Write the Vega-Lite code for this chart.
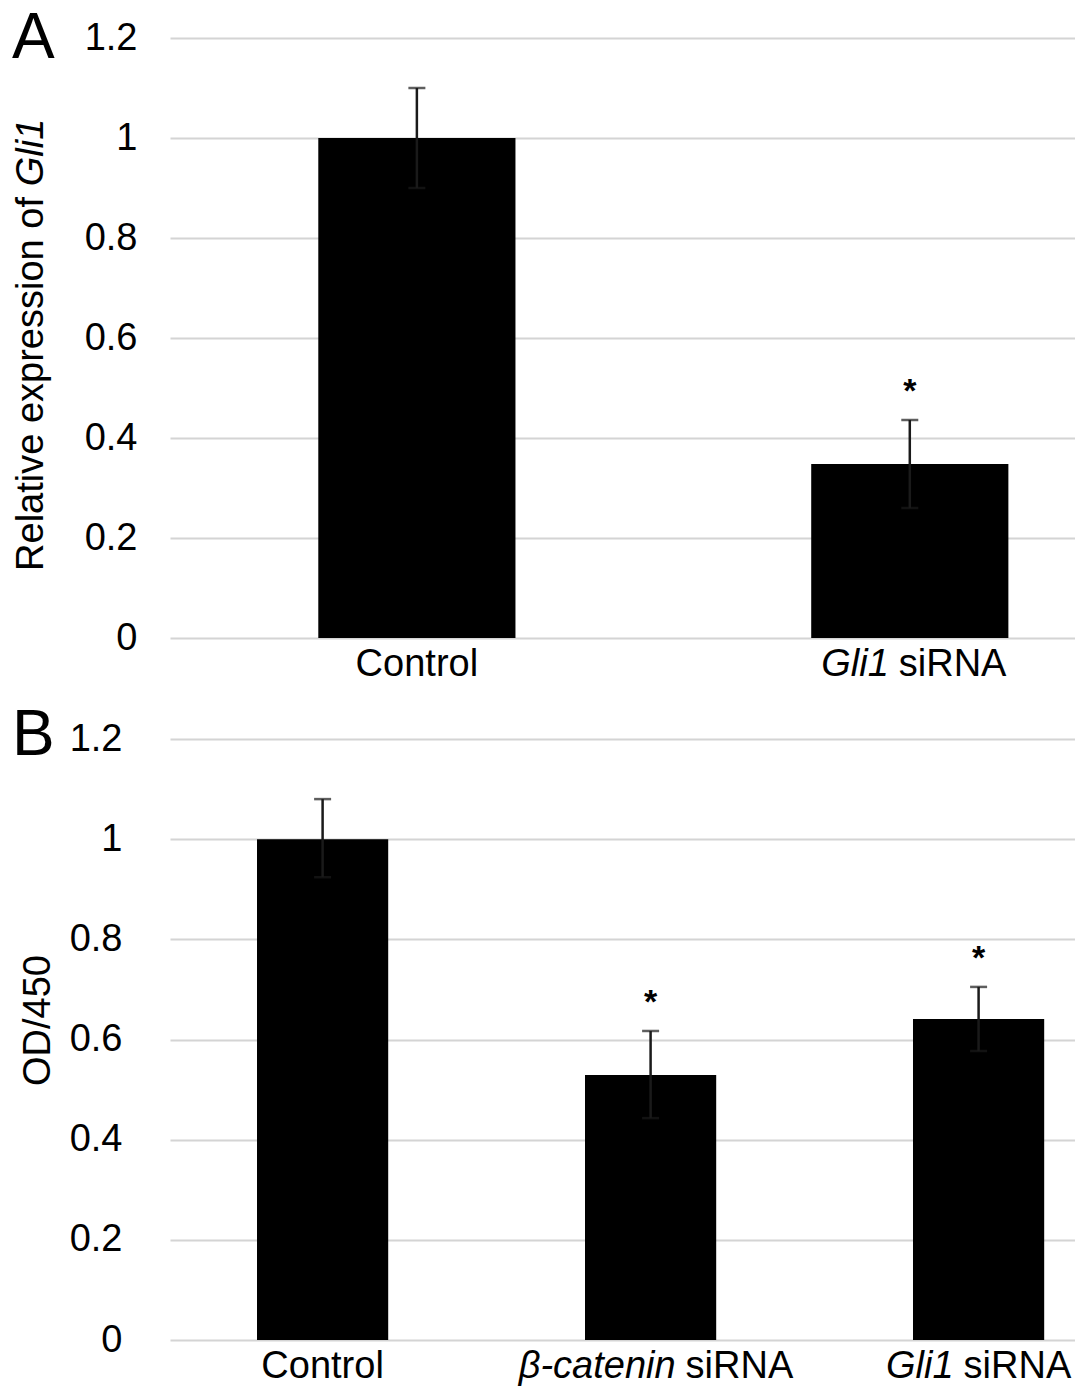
{
  "$schema": "https://vega.github.io/schema/vega-lite/v6.json",
  "background": "white",
  "padding": {"left": 12, "top": 7, "right": 0, "bottom": 0},
  "autosize": {"type": "pad"},
  "spacing": 20,
  "config": {
    "view": {"stroke": null},
    "font": "Liberation Sans",
    "axis": {"labelFont": "Liberation Sans", "titleFont": "Liberation Sans", "labelColor": "#000", "titleColor": "#000", "titleFontWeight": "normal"},
    "text": {"color": "#000"}
  },
  "vconcat": [
    {
      "width": 905,
      "height": 600,
      "title": {"text": "A", "anchor": "start", "frame": "group", "orient": "top", "fontSize": 64, "fontWeight": "normal", "font": "Liberation Sans", "color": "#000", "dx": -158, "dy": 103, "offset": 0, "baseline": "alphabetic"},
      "data": {"values": [
        {"group": "Control", "mean": 1.0, "lo": 0.9, "hi": 1.1, "sig": "", "lab_i": "", "lab_r": "Control"},
        {"group": "Gli1 siRNA", "mean": 0.348, "lo": 0.26, "hi": 0.436, "sig": "*", "lab_i": "Gli1", "lab_r": "siRNA"}
      ]},
      "encoding": {
        "x": {"field": "group", "type": "nominal", "sort": null, "scale": {"paddingInner": 0.6, "paddingOuter": 0.218, "align": 0.69}, "axis": null}
      },
      "layer": [
        {
          "mark": {"type": "bar", "color": "#000"},
          "encoding": {
            "y": {"field": "mean", "type": "quantitative", "scale": {"domain": [0, 1.2], "nice": false}, "title": null,
                  "axis": {"values": [0, 0.2, 0.4, 0.6, 0.8, 1, 1.2], "format": "~g", "labelFontSize": 38, "labelPadding": 33, "ticks": false, "domain": false, "gridColor": "#d4d4d4", "gridWidth": 2}}
          }
        },
        {
          "mark": {"type": "errorbar", "color": "#1a1a1a", "ticks": {"size": 17, "thickness": 2.5}, "rule": {"strokeWidth": 2.5}},
          "encoding": {
            "y": {"field": "lo", "type": "quantitative", "title": null},
            "y2": {"field": "hi"}
          }
        },
        {
          "mark": {"type": "text", "fontSize": 34, "fontWeight": "bold", "baseline": "alphabetic", "dy": -18},
          "encoding": {"y": {"field": "hi", "type": "quantitative", "title": null}, "text": {"field": "sig"}}
        },
        {
          "transform": [{"filter": "datum.group == 'Control'"}],
          "mark": {"type": "text", "fontSize": 38, "align": "center", "baseline": "top", "dy": 8},
          "encoding": {"y": {"datum": 0}, "text": {"field": "lab_r"}}
        },
        {
          "transform": [{"filter": "datum.group == 'Gli1 siRNA'"}],
          "mark": {"type": "text", "fontStyle": "italic", "fontSize": 38, "align": "right", "baseline": "top", "dy": 8, "dx": -21},
          "encoding": {"y": {"datum": 0}, "text": {"field": "lab_i"}}
        },
        {
          "transform": [{"filter": "datum.group == 'Gli1 siRNA'"}],
          "mark": {"type": "text", "fontSize": 38, "align": "left", "baseline": "top", "dy": 8, "dx": -11},
          "encoding": {"y": {"datum": 0}, "text": {"field": "lab_r"}}
        },
        {
          "data": {"values": [{"part": "Relative expression of"}]},
          "mark": {"type": "text", "fontSize": 38, "angle": 270, "align": "center", "baseline": "middle", "dy": -385},
          "encoding": {"x": {"datum": "Control", "type": "nominal"}, "y": {"datum": 0.508}, "text": {"field": "part"}}
        },
        {
          "data": {"values": [{"part": "Gli1"}]},
          "mark": {"type": "text", "fontSize": 38, "fontStyle": "italic", "angle": 270, "align": "center", "baseline": "middle", "dy": -385},
          "encoding": {"x": {"datum": "Control", "type": "nominal"}, "y": {"datum": 0.971}, "text": {"field": "part"}}
        }
      ]
    },
    {
      "width": 905,
      "height": 601,
      "title": {"text": "B", "anchor": "start", "frame": "group", "orient": "top", "fontSize": 64, "fontWeight": "normal", "font": "Liberation Sans", "color": "#000", "dx": -158, "dy": 99, "offset": 0, "baseline": "alphabetic"},
      "data": {"values": [
        {"group": "Control", "mean": 1.0, "lo": 0.924, "hi": 1.08, "sig": "", "lab_i": "", "lab_r": "Control"},
        {"group": "β-catenin siRNA", "mean": 0.529, "lo": 0.443, "hi": 0.617, "sig": "*", "lab_i": "β-catenin", "lab_r": "siRNA"},
        {"group": "Gli1 siRNA", "mean": 0.641, "lo": 0.577, "hi": 0.705, "sig": "*", "lab_i": "Gli1", "lab_r": "siRNA"}
      ]},
      "encoding": {
        "x": {"field": "group", "type": "nominal", "sort": null, "scale": {"paddingInner": 0.6, "paddingOuter": 0.1796, "align": 0.7385}, "axis": null}
      },
      "layer": [
        {
          "mark": {"type": "bar", "color": "#000"},
          "encoding": {
            "y": {"field": "mean", "type": "quantitative", "scale": {"domain": [0, 1.2], "nice": false}, "title": "OD/450",
                  "axis": {"title": "OD/450", "values": [0, 0.2, 0.4, 0.6, 0.8, 1, 1.2], "format": "~g", "labelFontSize": 38, "labelPadding": 48, "ticks": false, "domain": false, "gridColor": "#d4d4d4", "gridWidth": 2, "titleFontSize": 38, "titlePadding": 12, "titleY": 281}}
          }
        },
        {
          "mark": {"type": "errorbar", "color": "#1a1a1a", "ticks": {"size": 17, "thickness": 2.5}, "rule": {"strokeWidth": 2.5}},
          "encoding": {
            "y": {"field": "lo", "type": "quantitative", "title": "OD/450"},
            "y2": {"field": "hi"}
          }
        },
        {
          "mark": {"type": "text", "fontSize": 34, "fontWeight": "bold", "baseline": "alphabetic", "dy": -18},
          "encoding": {"y": {"field": "hi", "type": "quantitative", "title": "OD/450"}, "text": {"field": "sig"}}
        },
        {
          "transform": [{"filter": "datum.group == 'Control'"}],
          "mark": {"type": "text", "fontSize": 38, "align": "center", "baseline": "top", "dy": 8},
          "encoding": {"y": {"datum": 0}, "text": {"field": "lab_r"}}
        },
        {
          "transform": [{"filter": "datum.group == 'β-catenin siRNA'"}],
          "mark": {"type": "text", "fontStyle": "italic", "fontSize": 38, "align": "right", "baseline": "top", "dy": 8, "dx": 25},
          "encoding": {"y": {"datum": 0}, "text": {"field": "lab_i"}}
        },
        {
          "transform": [{"filter": "datum.group == 'β-catenin siRNA'"}],
          "mark": {"type": "text", "fontSize": 38, "align": "left", "baseline": "top", "dy": 8, "dx": 35},
          "encoding": {"y": {"datum": 0}, "text": {"field": "lab_r"}}
        },
        {
          "transform": [{"filter": "datum.group == 'Gli1 siRNA'"}],
          "mark": {"type": "text", "fontStyle": "italic", "fontSize": 38, "align": "right", "baseline": "top", "dy": 8, "dx": -25},
          "encoding": {"y": {"datum": 0}, "text": {"field": "lab_i"}}
        },
        {
          "transform": [{"filter": "datum.group == 'Gli1 siRNA'"}],
          "mark": {"type": "text", "fontSize": 38, "align": "left", "baseline": "top", "dy": 8, "dx": -15},
          "encoding": {"y": {"datum": 0}, "text": {"field": "lab_r"}}
        }
      ]
    }
  ]
}
